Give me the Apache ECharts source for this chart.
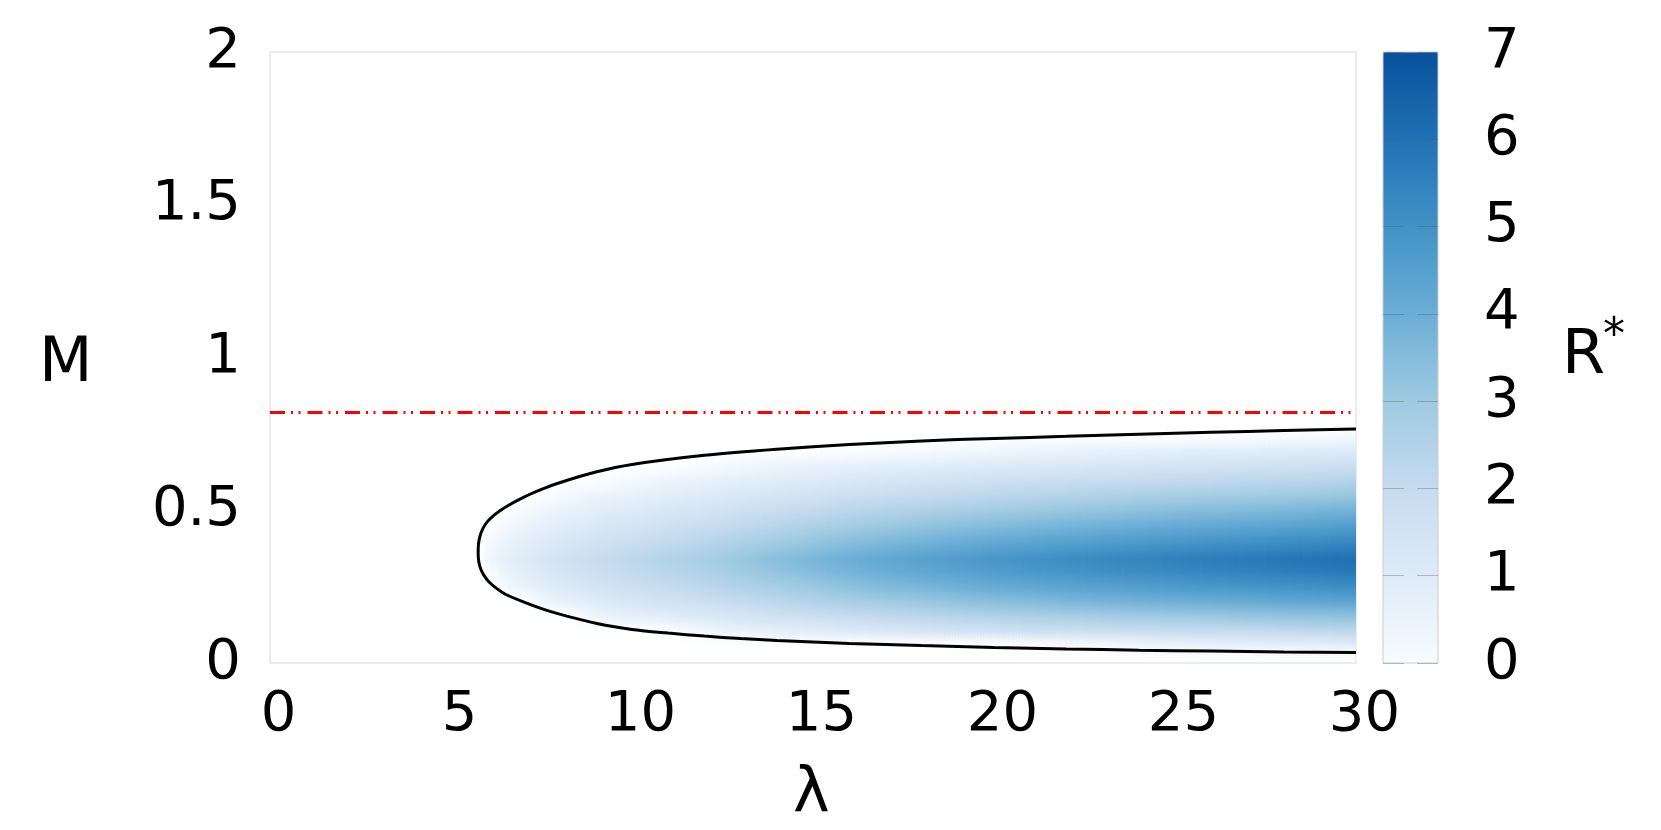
<!DOCTYPE html>
<html>
<head>
<meta charset="utf-8">
<script src="https://cdn.jsdelivr.net/npm/echarts@6/dist/echarts.min.js"></script>
<style>
  html, body { margin: 0; padding: 0; background: #fff; }
  #chart { width: 1661px; height: 830px; }
</style>
</head>
<body>
<div id="chart"></div>
<script>
// tick labels
var lambdaTicks = [0, 5, 10, 15, 20, 25, 30];
var mTicks = [0, 0.5, 1, 1.5, 2];
var colorbarTicks = [0, 1, 2, 3, 4, 5, 6, 7];

// R*: one column per lambda, one value per M row
var lambdaCols = [5.75, 6, 7, 8, 9, 10, 11, 12, 13, 14, 15, 16, 17, 18, 19, 20, 21, 22, 23, 24, 25, 26, 27, 28, 29, 30];
var mRows = [0, 0.05, 0.1, 0.15, 0.2, 0.25, 0.3, 0.34, 0.4, 0.45, 0.5, 0.55, 0.6, 0.65, 0.7, 0.75, 0.8];
var rStar = [
  [0, 0, 0, 0, 0, 0, 0, 0, 0, 0, 0, 0, 0, 0, 0, 0, 0],
  [0, 0, 0, 0, 0, 0, 0.14, 0.34, 0.22, 0.06, 0, 0, 0, 0, 0, 0, 0],
  [0, 0, 0, 0, 0.11, 0.55, 0.85, 1.0, 0.74, 0.47, 0.21, 0, 0, 0, 0, 0, 0],
  [0, 0, 0, 0, 0.6, 1.05, 1.37, 1.5, 1.16, 0.84, 0.53, 0.22, 0, 0, 0, 0, 0],
  [0, 0, 0, 0.38, 0.97, 1.43, 1.77, 1.9, 1.52, 1.16, 0.81, 0.46, 0.11, 0, 0, 0, 0],
  [0, 0, 0, 0.7, 1.28, 1.72, 2.07, 2.2, 1.78, 1.4, 1.02, 0.64, 0.27, 0, 0, 0, 0],
  [0, 0, 0.12, 0.9, 1.5, 2.0, 2.35, 2.5, 2.05, 1.64, 1.24, 0.83, 0.42, 0.05, 0, 0, 0],
  [0, 0, 0.3, 1.1, 1.71, 2.23, 2.6, 2.75, 2.28, 1.84, 1.42, 0.99, 0.56, 0.2, 0, 0, 0],
  [0, 0, 0.5, 1.33, 2.0, 2.54, 2.95, 3.1, 2.59, 2.12, 1.65, 1.18, 0.72, 0.3, 0, 0, 0],
  [0, 0, 0.68, 1.53, 2.24, 2.79, 3.23, 3.4, 2.85, 2.36, 1.86, 1.36, 0.86, 0.4, 0, 0, 0],
  [0, 0, 0.81, 1.7, 2.48, 3.07, 3.52, 3.7, 3.12, 2.59, 2.06, 1.53, 0.99, 0.5, 0.05, 0, 0],
  [0, 0, 0.96, 1.92, 2.72, 3.32, 3.8, 4.0, 3.39, 2.83, 2.27, 1.71, 1.15, 0.6, 0.1, 0, 0],
  [0, 0, 1.1, 2.08, 2.93, 3.57, 4.04, 4.25, 3.61, 3.03, 2.45, 1.86, 1.28, 0.7, 0.15, 0, 0],
  [0, 0, 1.25, 2.22, 3.07, 3.74, 4.25, 4.45, 3.79, 3.19, 2.59, 1.99, 1.39, 0.79, 0.2, 0, 0],
  [0, 0, 1.35, 2.37, 3.26, 3.95, 4.44, 4.65, 3.97, 3.35, 2.73, 2.11, 1.49, 0.88, 0.26, 0, 0],
  [0, 0.01, 1.46, 2.47, 3.4, 4.12, 4.63, 4.85, 4.15, 3.51, 2.88, 2.24, 1.6, 0.97, 0.33, 0, 0],
  [0, 0.1, 1.55, 2.6, 3.5, 4.25, 4.78, 5.0, 4.29, 3.64, 2.99, 2.34, 1.69, 1.04, 0.39, 0, 0],
  [0, 0.15, 1.6, 2.68, 3.66, 4.38, 4.92, 5.15, 4.42, 3.76, 3.1, 2.44, 1.78, 1.12, 0.46, 0, 0],
  [0, 0.21, 1.7, 2.8, 3.76, 4.5, 5.06, 5.3, 4.56, 3.89, 3.21, 2.54, 1.87, 1.2, 0.52, 0, 0],
  [0, 0.27, 1.73, 2.87, 3.85, 4.6, 5.18, 5.42, 4.67, 3.99, 3.31, 2.63, 1.95, 1.27, 0.59, 0, 0],
  [0, 0.33, 1.83, 2.94, 3.94, 4.72, 5.3, 5.55, 4.79, 4.1, 3.41, 2.72, 2.03, 1.34, 0.65, 0.02, 0],
  [0, 0.37, 1.86, 3.0, 4.01, 4.8, 5.4, 5.65, 4.88, 4.19, 3.49, 2.79, 2.09, 1.4, 0.7, 0.04, 0],
  [0, 0.4, 1.9, 3.1, 4.08, 4.89, 5.49, 5.75, 4.97, 4.27, 3.57, 2.87, 2.16, 1.46, 0.76, 0.06, 0],
  [0, 0.44, 1.99, 3.16, 4.21, 4.97, 5.59, 5.85, 5.07, 4.36, 3.65, 2.94, 2.23, 1.53, 0.82, 0.11, 0],
  [0, 0.51, 2.06, 3.22, 4.28, 5.06, 5.7, 5.95, 5.16, 4.45, 3.74, 3.02, 2.31, 1.6, 0.88, 0.17, 0],
  [0, 0.6, 2.15, 3.25, 4.35, 5.15, 5.8, 6.05, 5.3, 4.6, 3.85, 3.12, 2.4, 1.68, 0.95, 0.25, 0]
];

// black boundary curve (upper branch from the right, round the tip, lower branch back)
var curveLambda = [30, 28, 26, 24, 22, 20, 18, 16, 14, 12, 10, 9, 8, 7.5, 7, 6.5, 6.2, 6.0, 5.88, 5.8,
  5.76, 5.75, 5.77, 5.83, 5.92, 6.05, 6.25, 6.5, 7, 7.5, 8, 9, 10, 11, 12, 13, 14, 15, 16, 18,
  20, 22, 24, 26, 28, 30];
var curveM = [0.766, 0.761, 0.755, 0.749, 0.742, 0.735, 0.727, 0.715, 0.70, 0.68, 0.65, 0.625, 0.59, 0.568, 0.542, 0.51, 0.485, 0.462, 0.44, 0.415,
  0.39, 0.36, 0.33, 0.305, 0.285, 0.265, 0.245, 0.225, 0.20, 0.178, 0.16, 0.13, 0.11, 0.098, 0.088, 0.08, 0.074, 0.069, 0.064, 0.057,
  0.051, 0.046, 0.042, 0.039, 0.036, 0.034];

// red dash-dot threshold
var thresholdLambda = [0, 30];
var thresholdM = [0.82, 0.82];

var blues = ['#f7fbff', '#deebf7', '#c6dbef', '#9ecae1', '#6baed6', '#4292c6', '#2171b5', '#08519c'];

function hexRgb(h) {
  return [parseInt(h.substr(1, 2), 16), parseInt(h.substr(3, 2), 16), parseInt(h.substr(5, 2), 16)];
}
function colorOf(v) {
  if (v <= 0) return 'rgba(247,251,255,0)';
  if (v >= 7) return blues[7];
  var i = Math.floor(v), f = v - i;
  var a = hexRgb(blues[i]), b = hexRgb(blues[i + 1]);
  // fade the faintest values into the white background
  var alpha = v < 0.4 ? v / 0.4 : 1;
  return 'rgba(' + Math.round(a[0] + (b[0] - a[0]) * f) + ',' +
    Math.round(a[1] + (b[1] - a[1]) * f) + ',' + Math.round(a[2] + (b[2] - a[2]) * f) + ',' + alpha.toFixed(3) + ')';
}

var FONT = 'DejaVu Sans';
var myChart = echarts.init(document.getElementById('chart'));

var curveData = curveLambda.map(function (l, i) { return [l, curveM[i]]; });
var thresholdData = thresholdLambda.map(function (l, i) { return [l, thresholdM[i]]; });
var mTop = mRows[mRows.length - 1];

// one item per column gap; the strip between two columns is shaded in thin slices
function renderField(params, api) {
  var i = params.dataIndex;
  if (i >= lambdaCols.length - 1) return { type: 'group', children: [] };
  var a = api.coord([lambdaCols[i], mTop]);
  var b = api.coord([lambdaCols[i + 1], 0]);
  var w = b[0] - a[0];
  var n = Math.max(1, Math.ceil(w / 3));
  var children = [];
  for (var k = 0; k < n; k++) {
    var t = (k + 0.5) / n;
    var stops = mRows.map(function (m, j) {
      var v = rStar[i][j] * (1 - t) + rStar[i + 1][j] * t;
      return { offset: (mTop - m) / mTop, color: colorOf(v) };
    }).reverse();
    children.push({
      type: 'rect',
      shape: { x: a[0] + w * k / n, y: a[1], width: w / n + 0.8, height: b[1] - a[1] },
      style: { fill: new echarts.graphic.LinearGradient(0, 0, 0, 1, stops) }
    });
  }
  return { type: 'group', children: children };
}

var option = {
  backgroundColor: '#fff',
  animation: false,
  grid: [
    { left: 270, top: 52, width: 1086, height: 611, show: true, borderColor: '#d9d9d9', borderWidth: 1, backgroundColor: 'transparent' },
    { left: 1383, top: 52, width: 55, height: 611, show: true, borderColor: '#cccccc', borderWidth: 1, backgroundColor: 'transparent', z: 5 }
  ],
  xAxis: [
    {
      type: 'value', gridIndex: 0, min: 0, max: 30, interval: 5,
      axisLine: { show: false }, axisTick: { show: false }, splitLine: { show: false },
      axisLabel: {
        fontSize: 56, fontFamily: FONT, color: '#000', margin: 24, padding: [0, 0, 0, 17],
        customValues: lambdaTicks
      }
    },
    { type: 'value', gridIndex: 1, min: 0, max: 1, show: false }
  ],
  yAxis: [
    {
      type: 'value', gridIndex: 0, min: 0, max: 2, interval: 0.5,
      axisLine: { show: false }, axisTick: { show: false }, splitLine: { show: false },
      axisLabel: { fontSize: 56, fontFamily: FONT, color: '#000', margin: 29, customValues: mTicks }
    },
    {
      type: 'value', gridIndex: 1, min: 0, max: 7, interval: 1, position: 'right', z: 6,
      axisLine: { show: false }, axisTick: { show: false },
      splitLine: { show: true, lineStyle: { color: 'rgba(90,90,90,0.35)', width: 1, type: [21, 13, 30] } },
      axisLabel: { fontSize: 56, fontFamily: FONT, color: '#000', margin: 46, customValues: colorbarTicks }
    }
  ],
  visualMap: {
    type: 'continuous', min: 0, max: 7, seriesIndex: 0, dimension: 1,
    inRange: { color: blues },
    calculable: false, left: 1383, top: 52, itemWidth: 55, itemHeight: 611,
    padding: 0, text: null, showLabel: false, orient: 'vertical'
  },
  graphic: [
    { type: 'text', left: 39, top: 334, style: { text: 'M', font: '62px "DejaVu Sans"', fill: '#000' } },
    { type: 'text', left: 793, top: 764, style: { text: 'λ', font: '62px "DejaVu Sans"', fill: '#000' } },
    { type: 'text', left: 1562, top: 326, style: { text: 'R', font: '62px "DejaVu Sans"', fill: '#000' } },
    { type: 'text', left: 1603, top: 316, style: { text: '*', font: '44px "DejaVu Sans"', fill: '#000' } }
  ],
  series: [
    {
      type: 'custom',
      xAxisIndex: 0, yAxisIndex: 0,
      clip: true,
      data: lambdaCols.map(function (l) { return [l, 0.4]; }),
      renderItem: renderField,
      z: 1
    },
    {
      type: 'line', xAxisIndex: 0, yAxisIndex: 0,
      data: curveData, showSymbol: false, smooth: 0.2,
      lineStyle: { color: '#000', width: 3 }, z: 3
    },
    {
      type: 'line', xAxisIndex: 0, yAxisIndex: 0,
      data: thresholdData, showSymbol: false,
      lineStyle: { color: '#ff0000', width: 3, type: [15, 6, 2, 5.5, 2, 7] }, z: 4
    }
  ]
};

myChart.setOption(option);
</script>
</body>
</html>
